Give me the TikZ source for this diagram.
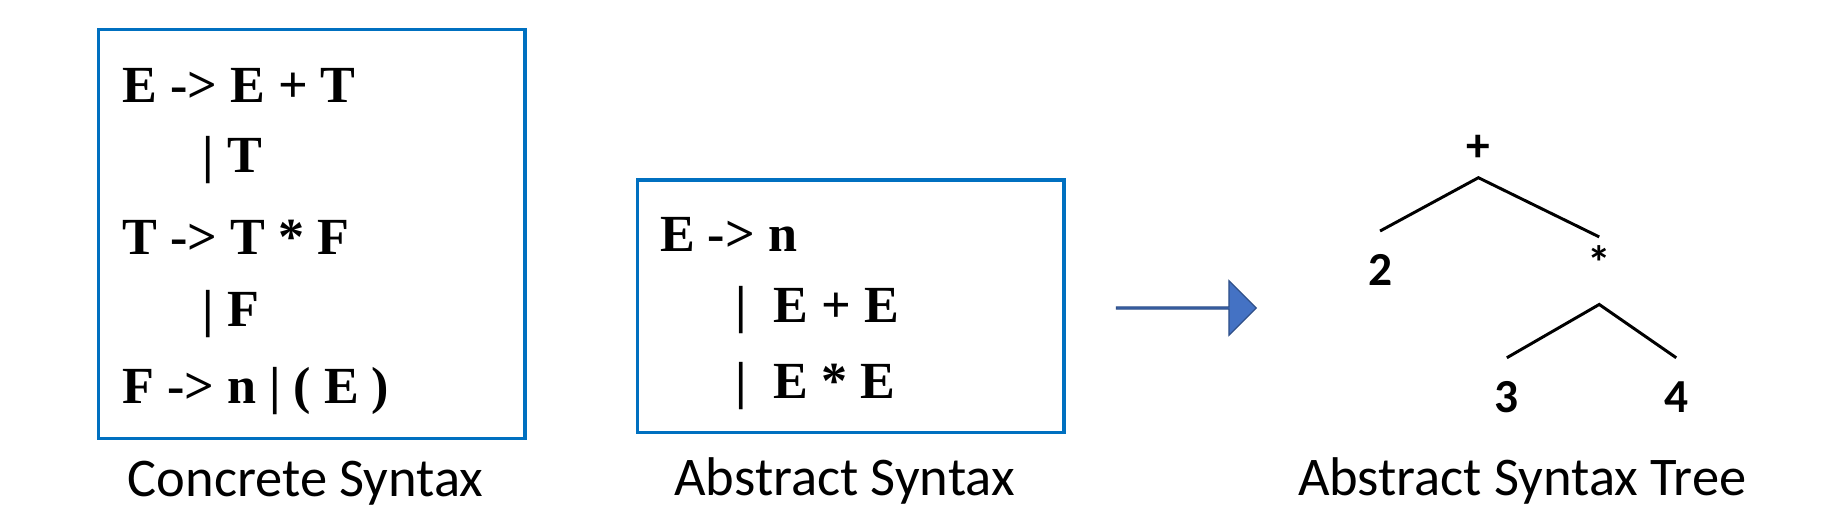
\documentclass[tikz,border=0pt]{standalone}
\usepackage{fontspec}
\setmainfont{Liberation Serif}
\newfontfamily\calfont{Carlito}
\usetikzlibrary{shapes.arrows}
\definecolor{boxblue}{HTML}{0070C0}
\definecolor{arrowblue}{HTML}{4472C4}
\tikzset{
  gram/.style={anchor=west,inner sep=0pt,font=\fontsize{44}{44}\selectfont\bfseries},
  caption/.style={font=\calfont\fontsize{46}{46}\selectfont},
  leaf/.style={font=\calfont\bfseries\fontsize{40}{40}\selectfont,inner sep=0pt},
  gbox/.style={draw=boxblue,line width=3pt}
}
\begin{document}
\begin{tikzpicture}[x=1pt,y=-1pt,line width=2.5pt]
  \useasboundingbox (0,0) rectangle (1560,437);
  % concrete syntax
  \draw[gbox] (83,25) rectangle (443,370);
  \node[gram] (c1) at (102,72) {E -> E + T};
  \node[gram] (c2) at (170,135) {| T};
  \node[gram] (c3) at (102,200) {T -> T * F};
  \node[gram] (c4) at (170,265) {| F};
  \node[gram] (c5) at (102,330) {F -> n | ( E )};
  \node[caption] (cs) at (258,408) {Concrete Syntax};
  % abstract syntax
  \draw[gbox] (538,152) rectangle (898,365);
  \node[gram] (a1) at (556,198) {E -> n};
  \node[gram] (a2) at (620,262) {|\ \ E + E};
  \node[gram] (a3) at (620,326) {|\ \ E * E};
  \node[caption] (as) at (713,406) {Abstract Syntax};
  % arrow
  \node[single arrow,fill=arrowblue,draw=arrowblue!70!black,line width=1pt,
        minimum width=46pt,minimum height=118pt,single arrow head extend=13pt,
        inner sep=0pt] (arr) at (1001,260) {};
  % tree
  \node[leaf] (plus) at (1248,125) {+};
  \node[leaf] (two) at (1165,228) {2};
  \node[leaf] (times) at (1350,222) {*};
  \node[leaf] (three) at (1272,335) {3};
  \node[leaf] (four) at (1415,335) {4};
  \coordinate (p) at (1248,150);
  \coordinate (t) at (1350,257);
  \draw (1165,195) -- (p) -- (1350,200);
  \draw (1272,302) -- (t) -- (1415,302);
  \node[caption] (ast) at (1285,406) {Abstract Syntax Tree};
\end{tikzpicture}
\end{document}
